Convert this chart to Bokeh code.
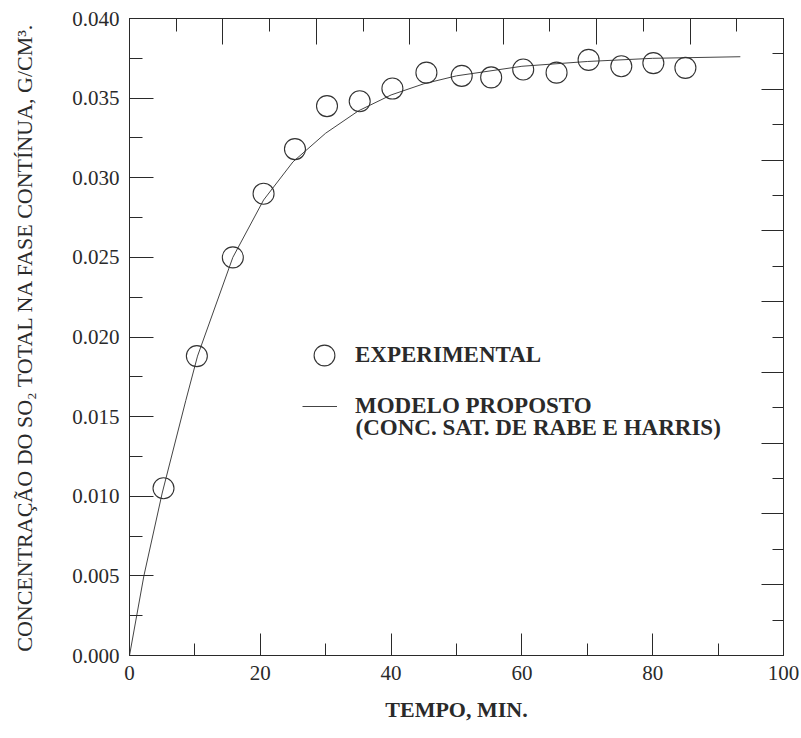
from bokeh.plotting import figure
from bokeh.models import (Range1d, LinearAxis, FixedTicker, NumeralTickFormatter,
                          CustomJSTickFormatter, Legend, LegendItem, Label)
from bokeh.embed import file_html
from bokeh.resources import INLINE

# ---- data ----
exp_t = [5.2, 10.3, 15.8, 20.5, 25.3, 30.2, 35.2, 40.2, 45.4, 50.8, 55.3,
         60.2, 65.3, 70.2, 75.2, 80.1, 85.0]
exp_c = [0.0105, 0.0188, 0.0250, 0.0290, 0.0318, 0.0345, 0.0348, 0.0356,
         0.0366, 0.0364, 0.0363, 0.0368, 0.0366, 0.0374, 0.0370, 0.0372, 0.0369]

model_t = [0, 2.2, 5.0, 8.6, 10.4, 15.8, 20.5, 25.0, 30.0, 35.0, 40.0, 45.0,
           50.0, 60.0, 70.0, 80.0, 93.4]
model_c = [0.0, 0.0050, 0.0102, 0.0160, 0.0188, 0.0250, 0.0286, 0.0310,
           0.0328, 0.0342, 0.0352, 0.0359, 0.0364, 0.0370, 0.0373, 0.0375, 0.0376]

x_ticks = [0, 20, 40, 60, 80, 100]
x_minor = [10, 30, 50, 70, 90]
y_ticks = [0.000, 0.005, 0.010, 0.015, 0.020, 0.025, 0.030, 0.035, 0.040]
y_minor = [0.0025, 0.0075, 0.0125, 0.0175, 0.0225, 0.0275, 0.0325, 0.0375]

label_exp = "EXPERIMENTAL"
label_model_1 = "MODELO PROPOSTO"
label_model_2 = "(CONC. SAT. DE RABE E HARRIS)"
x_title = "TEMPO, MIN."
y_title = "CONCENTRAÇÃO DO SO₂ TOTAL NA FASE CONTÍNUA, G/CM³."

FONT = "Liberation Serif"
INK = "#2a2a2a"

p = figure(width=801, height=738, frame_width=654, frame_height=637,
           min_border_left=129, min_border_right=18, min_border_top=18,
           min_border_bottom=83, output_backend="svg", toolbar_location=None,
           x_range=Range1d(0, 100), y_range=Range1d(0, 0.040),
           x_axis_location=None, y_axis_location=None)
p.grid.visible = False
p.outline_line_color = INK
p.outline_line_width = 1
p.background_fill_color = "white"
p.border_fill_color = "white"

def style(ax, major_in, minor_in):
    ax.axis_line_color = INK
    ax.major_tick_line_color = INK
    ax.minor_tick_line_color = INK
    ax.major_tick_in = major_in
    ax.major_tick_out = 0
    ax.minor_tick_in = minor_in
    ax.minor_tick_out = 0
    ax.major_label_text_font = FONT
    ax.major_label_text_font_size = "21px"
    ax.major_label_text_color = INK
    ax.axis_label_text_font = FONT
    ax.axis_label_text_color = INK

xb = LinearAxis(ticker=FixedTicker(ticks=x_ticks, minor_ticks=x_minor))
style(xb, 22, 12)
xb.major_label_standoff = 10
xb.axis_label = x_title
xb.axis_label_text_font_size = "22px"
xb.axis_label_text_font_style = "bold"
xb.axis_label_standoff = 14
p.add_layout(xb, "below")

yl = LinearAxis(ticker=FixedTicker(ticks=y_ticks, minor_ticks=y_minor),
                formatter=NumeralTickFormatter(format="0.000"))
style(yl, 24, 13)
yl.major_label_standoff = 10
yl.axis_label = y_title
yl.axis_label_text_font_size = "22px"
yl.axis_label_text_font_style = "normal"
yl.axis_label_standoff = 32
p.add_layout(yl, "left")

# secondary (unlabelled) scales on top and right, as in the reference
blank = CustomJSTickFormatter(code="return ''")
p.extra_x_ranges = {"top": Range1d(0, 14)}
p.extra_y_ranges = {"right": Range1d(0, 18)}
xt = LinearAxis(x_range_name="top", formatter=blank,
                ticker=FixedTicker(ticks=list(range(0, 15, 2)),
                                   minor_ticks=list(range(1, 14, 2))))
style(xt, 26, 13)
xt.major_label_standoff = 0
p.add_layout(xt, "above")

yr = LinearAxis(y_range_name="right", formatter=blank,
                ticker=FixedTicker(ticks=list(range(0, 19, 2)),
                                   minor_ticks=list(range(1, 18, 2))))
style(yr, 22, 11)
yr.major_label_standoff = 0
p.add_layout(yr, "right")

r_model = p.line(model_t, model_c, line_color="#444444", line_width=1)
r_exp = p.scatter(exp_t, exp_c, marker="circle", size=21, fill_color=None,
                  line_color="#333333", line_width=1.1)

def make_legend(items, loc, gw, gh, standoff):
    lg = Legend(items=items, location=loc, glyph_width=gw, glyph_height=gh,
                label_standoff=standoff, padding=0, margin=0, spacing=0,
                border_line_alpha=0, background_fill_alpha=0,
                label_text_font=FONT, label_text_font_size="23px",
                label_text_font_style="bold", label_text_color=INK,
                label_height=20)
    return lg

lg1 = make_legend([LegendItem(label=label_exp, renderers=[r_exp])],
                  (169, 274), 52, 52, 5)
lg2 = make_legend([LegendItem(label=label_model_1, renderers=[r_model])],
                  (173, 236), 35, 20, 18)
p.add_layout(lg1, "center")
p.add_layout(lg2, "center")

p.add_layout(Label(x=34.56, y=0.01432, text=label_model_2, text_font=FONT,
                   text_font_size="23px", text_font_style="bold",
                   text_color=INK, text_baseline="middle", text_align="left"))

open("out.html", "w").write(file_html(p, INLINE))
